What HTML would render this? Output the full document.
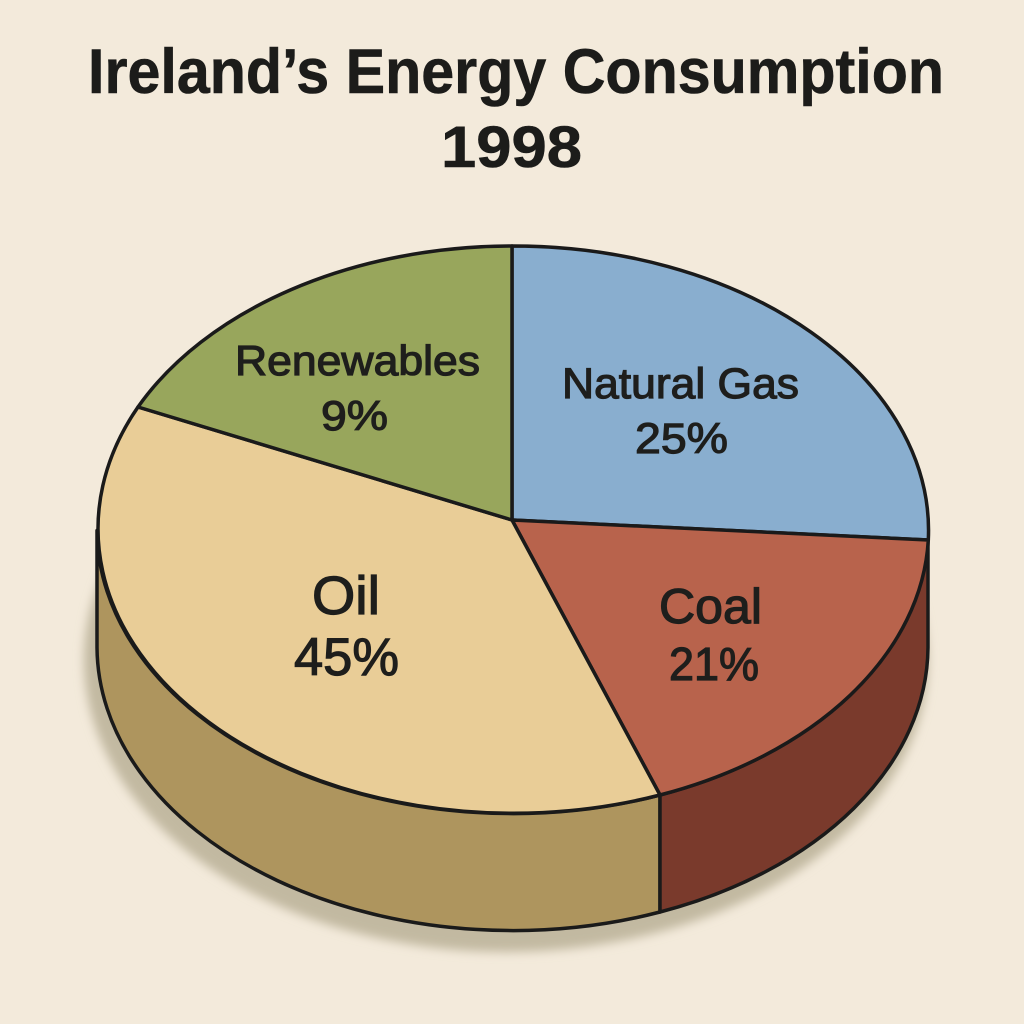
<!DOCTYPE html>
<html>
<head>
<meta charset="utf-8">
<style>
  html, body { margin: 0; padding: 0; background: #f3eadb; }
  svg { display: block; }
</style>
</head>
<body>
<svg width="1024" height="1024" viewBox="0 0 1024 1024" xmlns="http://www.w3.org/2000/svg">
  <defs>
    <filter id="blur" x="-20%" y="-20%" width="140%" height="140%">
      <feGaussianBlur stdDeviation="5"/>
    </filter>
  </defs>
  <rect x="0" y="0" width="1024" height="1024" fill="#f3eadb"/>

  <!-- Title -->
  <g font-family="Liberation Sans, Arial, sans-serif" font-weight="bold" fill="#1c1c1a" stroke="#1c1c1a" stroke-width="0.6">
    <text x="88" y="93" font-size="63" textLength="856" lengthAdjust="spacingAndGlyphs">Ireland’s Energy Consumption</text>
    <text x="441" y="167" font-size="58" textLength="141" lengthAdjust="spacingAndGlyphs">1998</text>
  </g>

  <!-- Shadow -->
  <ellipse cx="506" cy="660" rx="422" ry="292" fill="#c2b9a1" filter="url(#blur)"/>

  <g stroke="#1a1a1a" stroke-width="3.5" stroke-linejoin="round">
    <!-- Side: Oil -->
    <path d="M97,530.5 A415.5,284.5 0 0 0 660,795 L660,912 A415.5,284.5 0 0 1 97,647.5 Z" fill="#ae955e"/>
    <!-- Side: Coal -->
    <path d="M660,795 A415.5,284.5 0 0 0 928,530.5 L928,647.5 A415.5,284.5 0 0 1 660,912 Z" fill="#7a3a2c"/>

    <!-- Top: Natural Gas -->
    <path d="M512,520 L512,246 A415.5,284.5 0 0 1 928.3,540 Z" fill="#89aecf"/>
    <!-- Top: Coal -->
    <path d="M512,520 L928.3,540 A415.5,284.5 0 0 1 660,795 Z" fill="#b8634c"/>
    <!-- Top: Oil -->
    <path d="M512,520 L660,795 A415.5,284.5 0 0 1 138,407 Z" fill="#e9cd97"/>
    <!-- Top: Renewables -->
    <path d="M512,520 L138,407 A415.5,284.5 0 0 1 512,246 Z" fill="#98a65c"/>
  </g>

  <!-- Labels -->
  <g font-family="Liberation Sans, Arial, sans-serif" fill="#1e1e1c" stroke="#1e1e1c" stroke-width="1.2">
    <text x="235" y="375" font-size="42" textLength="245" lengthAdjust="spacingAndGlyphs">Renewables</text>
    <text x="321" y="430" font-size="42" textLength="67" lengthAdjust="spacingAndGlyphs">9%</text>

    <text x="562" y="398" font-size="43" textLength="237" lengthAdjust="spacingAndGlyphs">Natural Gas</text>
    <text x="635" y="453" font-size="43" textLength="93" lengthAdjust="spacingAndGlyphs">25%</text>

    <text x="312" y="614" font-size="54" textLength="68" lengthAdjust="spacingAndGlyphs">Oil</text>
    <text x="294" y="675" font-size="53" textLength="105" lengthAdjust="spacingAndGlyphs">45%</text>

    <text x="659" y="623" font-size="49" textLength="103" lengthAdjust="spacingAndGlyphs">Coal</text>
    <text x="669" y="680" font-size="46" textLength="90" lengthAdjust="spacingAndGlyphs">21%</text>
  </g>
</svg>
</body>
</html>
